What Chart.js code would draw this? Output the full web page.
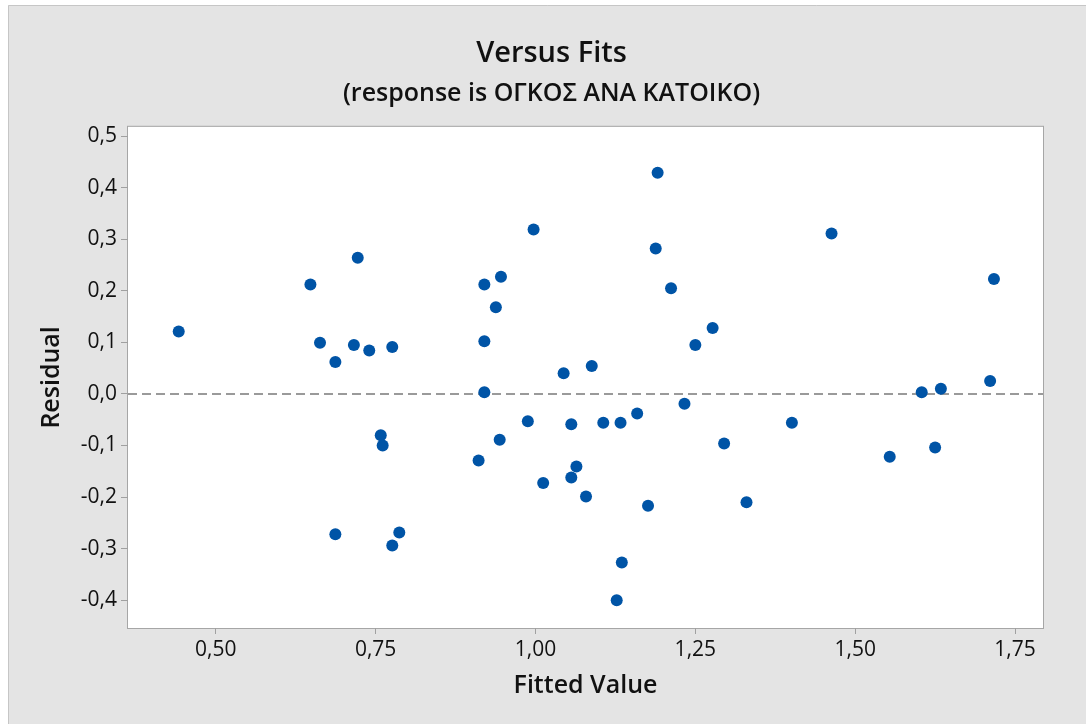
<!DOCTYPE html>
<html>
<head>
<meta charset="utf-8">
<script src="https://cdn.jsdelivr.net/npm/chart.js@4/dist/chart.umd.min.js"></script>
<style>
  html, body { margin: 0; padding: 0; background: #fff; }
  #wrap { width: 1086px; height: 724px; position: relative; }
</style>
</head>
<body>
<div id="wrap"><canvas id="chart"></canvas></div>
<script>
// fitted values (x) and residuals (y)
const fitted = [
  0.442, 0.648, 0.722, 0.663, 0.687, 0.716, 0.740, 0.776,
  1.191, 0.997, 1.188, 0.946, 0.920, 0.938, 1.212, 1.277, 1.250, 0.920, 1.088, 1.044,
  1.463, 1.717,
  1.711, 1.634, 1.604, 1.401, 1.554, 1.625,
  0.920, 1.233, 1.159, 0.988, 1.056, 1.106, 1.133, 0.944, 1.295, 0.911,
  1.064, 1.056, 1.012, 1.079, 1.176, 1.330, 1.135, 1.127,
  0.758, 0.761, 0.687, 0.787, 0.776
];
const residuals = [
  0.121, 0.212, 0.264, 0.099, 0.062, 0.095, 0.084, 0.091,
  0.429, 0.319, 0.282, 0.227, 0.212, 0.168, 0.205, 0.128, 0.095, 0.102, 0.054, 0.040,
  0.311, 0.223,
  0.025, 0.010, 0.003, -0.056, -0.122, -0.104,
  0.003, -0.019, -0.038, -0.053, -0.059, -0.056, -0.056, -0.089, -0.096, -0.129,
  -0.141, -0.162, -0.173, -0.199, -0.217, -0.210, -0.327, -0.400,
  -0.080, -0.100, -0.272, -0.269, -0.294
];

const xTicks = [0.50, 0.75, 1.00, 1.25, 1.50, 1.75];
const yTicks = [-0.4, -0.3, -0.2, -0.1, 0.0, 0.1, 0.2, 0.3, 0.4, 0.5];
const xRange = [0.3627, 1.7937];
const yRange = [-0.454, 0.518];
const refLevel = 0;

const FONT = "'Open Sans', 'Noto Sans', sans-serif";
const points = fitted.map((x, i) => ({ x: x, y: residuals[i] }));
const comma = (v, d) => v.toFixed(d).replace(".", ",");

const panel = {
  id: "panel",
  beforeDraw(chart) {
    const { ctx, chartArea: a, width, height } = chart;
    ctx.save();
    ctx.fillStyle = "#ffffff";
    ctx.fillRect(0, 0, width, height);
    ctx.fillStyle = "#e4e4e4";
    ctx.fillRect(8, 5, width - 8, height - 5);
    ctx.strokeStyle = "#c6c6c6";
    ctx.lineWidth = 1;
    ctx.beginPath();
    ctx.moveTo(8.5, height);
    ctx.lineTo(8.5, 5.5);
    ctx.lineTo(width, 5.5);
    ctx.stroke();
    ctx.fillStyle = "#ffffff";
    ctx.fillRect(a.left, a.top, a.right - a.left, a.bottom - a.top);
    ctx.strokeStyle = "#a6a6a6";
    ctx.strokeRect(a.left - 0.5, a.top - 0.5, a.right - a.left + 1, a.bottom - a.top + 1);
    ctx.restore();
  }
};

new Chart(document.getElementById("chart"), {
  type: "scatter",
  data: {
    datasets: [
      {
        label: "Residuals",
        data: points,
        backgroundColor: "#0054a6",
        borderColor: "#0054a6",
        borderWidth: 0,
        pointRadius: 6,
        order: 1
      },
      {
        type: "line",
        label: "Zero",
        data: [{ x: xRange[0], y: refLevel }, { x: xRange[1], y: refLevel }],
        borderColor: "#9a9a9a",
        borderWidth: 2,
        borderDash: [9, 5],
        pointRadius: 0,
        order: 2
      }
    ]
  },
  options: {
    responsive: true,
    maintainAspectRatio: false,
    animation: false,
    // left padding centres the titles over the panel like the original
    layout: { padding: { left: 60, right: 43, top: 0, bottom: 0 } },
    plugins: {
      legend: { display: false },
      tooltip: { enabled: false },
      title: {
        display: true,
        text: "Versus Fits",
        color: "#111",
        font: { family: FONT, size: 29, weight: "600" },
        padding: { top: 36, bottom: 0 }
      },
      subtitle: {
        display: true,
        text: "(response is ΟΓΚΟΣ ΑΝΑ ΚΑΤΟΙΚΟ)",
        color: "#111",
        font: { family: FONT, size: 25, weight: "600" },
        padding: { top: 8, bottom: 18 }
      }
    },
    scales: {
      x: {
        type: "linear",
        min: xRange[0],
        max: xRange[1],
        afterBuildTicks: (s) => { s.ticks = xTicks.map(v => ({ value: v })); },
        afterFit: (s) => { s.height = 96; },
        ticks: {
          color: "#111",
          font: { family: FONT, size: 21 },
          padding: 3,
          callback: (v) => comma(v, 2)
        },
        grid: { display: true, drawOnChartArea: false, drawTicks: true, tickLength: 6, color: "#a0a0a0" },
        border: { display: false },
        title: {
          display: true,
          text: "Fitted Value",
          color: "#111",
          font: { family: FONT, size: 25, weight: "600" },
          padding: { top: 0, bottom: 23 }
        }
      },
      y: {
        type: "linear",
        min: yRange[0],
        max: yRange[1],
        afterBuildTicks: (s) => { s.ticks = yTicks.map(v => ({ value: v })); },
        afterFit: (s) => { s.width = 68; },
        ticks: {
          color: "#111",
          font: { family: FONT, size: 21 },
          padding: 4,
          callback: (v) => comma(v, 1)
        },
        grid: { display: true, drawOnChartArea: false, drawTicks: true, tickLength: 7, color: "#a0a0a0" },
        border: { display: false },
        title: {
          display: true,
          text: "Residual",
          color: "#111",
          font: { family: FONT, size: 25, weight: "600" },
          padding: { top: -23, bottom: 0 }
        }
      }
    }
  },
  plugins: [panel]
});
</script>
</body>
</html>
